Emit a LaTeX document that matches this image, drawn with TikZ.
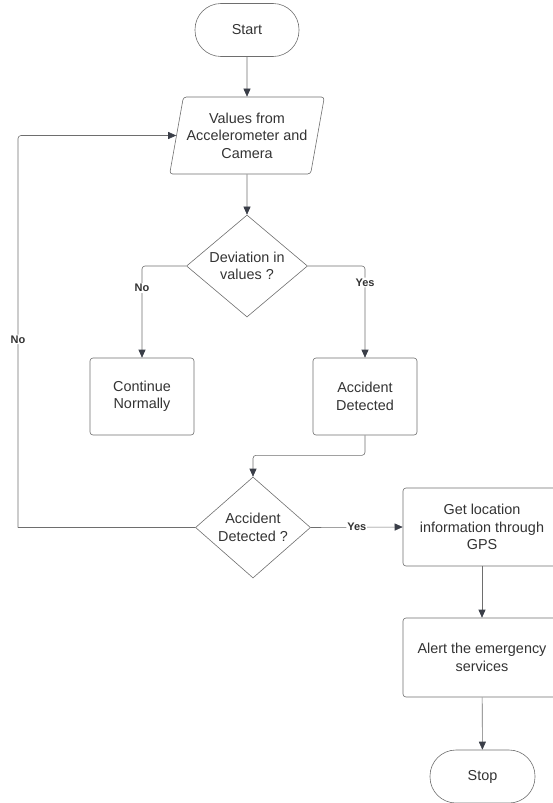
\documentclass[tikz,border=0pt]{standalone}
\usepackage{fontspec}
\setmainfont{Liberation Sans}
\usetikzlibrary{shapes.geometric,arrows.meta}
\definecolor{edgegray}{HTML}{6E6E6E}
\definecolor{tipgray}{HTML}{3A3E48}
\definecolor{txtgray}{HTML}{333333}
\begin{document}
\begin{tikzpicture}[x=1pt,y=-1pt,
  font=\fontsize{14.4}{17.5}\selectfont, text=txtgray,
  base/.style={draw=edgegray,line width=0.6pt,align=center,inner sep=0pt},
  terminal/.style={base,rounded corners=26pt,minimum width=104pt,minimum height=53pt},
  process/.style={base,rounded corners=3pt,minimum width=104pt,minimum height=77pt},
  wideproc/.style={base,rounded corners=3pt,minimum width=158pt,minimum height=78pt},
  iobox/.style={base,trapezium,trapezium left angle=74,trapezium right angle=106,
    trapezium stretches=true,rounded corners=3pt,minimum width=155pt,minimum height=77pt},
  decision/.style={base,diamond,aspect=1.19,minimum width=121pt,minimum height=102pt},
  flow/.style={draw=edgegray,line width=0.6pt,rounded corners=3pt,
    -{Triangle[length=8pt,width=7pt,color=tipgray]}},
  line/.style={draw=edgegray,line width=0.6pt,rounded corners=3pt},
  lbl/.style={font=\fontsize{11}{13}\selectfont\bfseries,fill=white,inner sep=1pt}]
\useasboundingbox (0,0) rectangle (553,803);

% nodes
\node[terminal] (start) at (247,30) {Start};
\node[iobox] (input) at (247,135.5) {Values from\\Accelerometer and\\Camera};
\node[decision] (dev) at (247,266) {Deviation in\\values ?};
\node[process] (cont) at (142,396.5) {Continue\\Normally};
\node[process] (acc) at (365,396.5) {Accident\\Detected};
\node[decision, minimum width=115pt, minimum height=101pt] (chk) at (253,527.5) {Accident\\Detected ?};
\node[wideproc] (gps) at (482,527) {Get location\\information through\\GPS};
\node[wideproc, minimum height=79pt] (alert) at (482,657.5) {Alert the emergency\\services};
\node[terminal, minimum width=105pt] (stop) at (482.5,776.5) {Stop};
\coordinate (back) at (18,527.5);

% connectors
\draw[flow] (start) -- (input);
\draw[flow] (input) -- (dev);
\draw[flow] (dev.west) -| node[lbl,pos=0.62] {No} (cont.north);
\draw[flow] (dev.east) -| node[lbl,pos=0.59] {Yes} (acc.north);
\draw[flow] (acc.south) -- ++(0,20) -| (chk.north);
\draw[flow] (chk.east) -- node[lbl] {Yes} (gps.west);
\draw[line] (chk.west) -- (back);
\draw[flow] (back) |- node[lbl,pos=0.24] {No} (input.west);
\draw[flow] (gps) -- (alert);
\draw[flow] (alert) -- (stop);
\end{tikzpicture}
\end{document}
